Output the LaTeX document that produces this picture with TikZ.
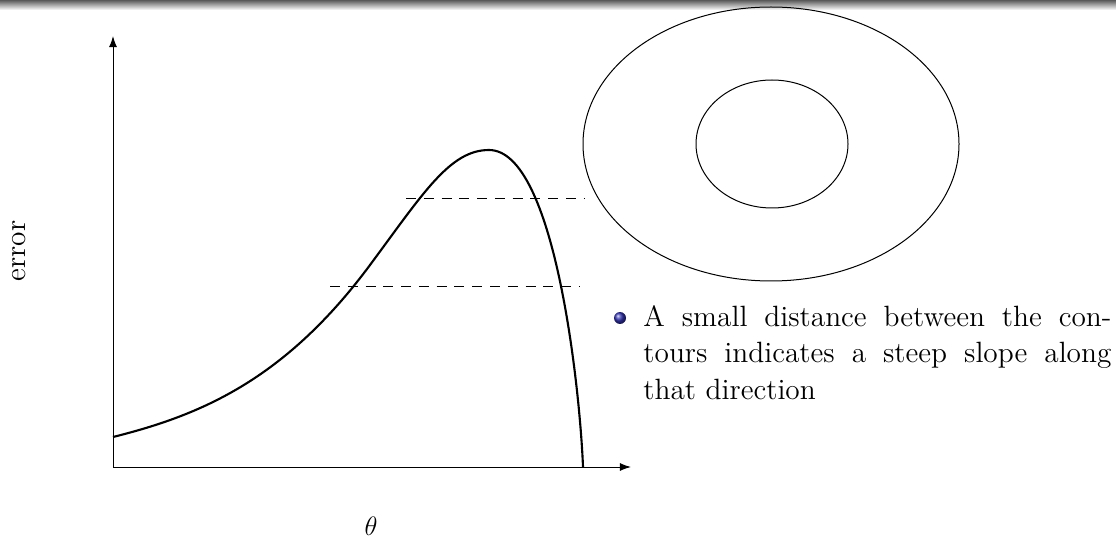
\documentclass[tikz,border=0pt]{standalone}
\usetikzlibrary{arrows.meta,shapes.geometric}
\definecolor{ballblue}{rgb}{0.2,0.2,0.7}
\tikzset{
  axis/.style={line width=0.45pt,-{Latex[length=5pt,width=3.6pt]}},
  curve/.style={line width=0.95pt},
  contour/.style={line width=0.45pt},
  guide/.style={line width=0.45pt,dash pattern=on 4.5pt off 3.5pt},
  lbl/.style={inner sep=0pt,font=\fontsize{13.2}{16.2}\selectfont},
}
\begin{document}
\begin{tikzpicture}[x=0.45pt,y=-0.45pt]
\useasboundingbox (0,0) rectangle (1116,539);
% top shadow bar
\shade[top color=black!65,bottom color=white] (0,0) rectangle (1116,10);
% axes
\coordinate (O) at (113,467);
\coordinate (ytop) at (113,36);
\coordinate (xend) at (631,467);
\draw[axis] (O) -- (ytop);
\draw[axis] (O) -- (xend);
\node[lbl,rotate=90] (err) at (19,251) {error};
\node[lbl] (theta) at (371,526) {$\theta$};
% curve
\coordinate (c0) at (113,437);
\coordinate (c1) at (370,265);
\coordinate (peak) at (489,150);
\coordinate (c3) at (583,467);
\draw[curve] (c0) .. controls (199,415.5) and (284,381) .. (c1)
  .. controls (423.6,192.7) and (450,150) .. (peak)
  .. controls (555,150) and (580,390) .. (c3);
% dashed levels
\coordinate (d1a) at (406,199);
\coordinate (d1b) at (584,199);
\coordinate (d2a) at (330,287);
\coordinate (d2b) at (580,287);
\draw[guide] (d1a) -- (d1b);
\draw[guide] (d2a) -- (d2b);
% contours
\node[contour,draw,ellipse,minimum width=376*0.45pt,minimum height=274*0.45pt,inner sep=0pt] (outer) at (771,144) {};
\node[contour,draw,ellipse,minimum width=152*0.45pt,minimum height=128*0.45pt,inner sep=0pt] (inner) at (772,144) {};
% bullet
\shade[ball color=ballblue] (620,318) circle (6);
\node[anchor=base west,inner sep=0pt,font=\fontsize{13.2}{16.2}\selectfont] (txt) at (643,327)
  {\parbox[t]{210.6pt}{A small distance between the con-\linebreak
   tours indicates a steep slope along\linebreak that direction}};
\end{tikzpicture}
\end{document}
